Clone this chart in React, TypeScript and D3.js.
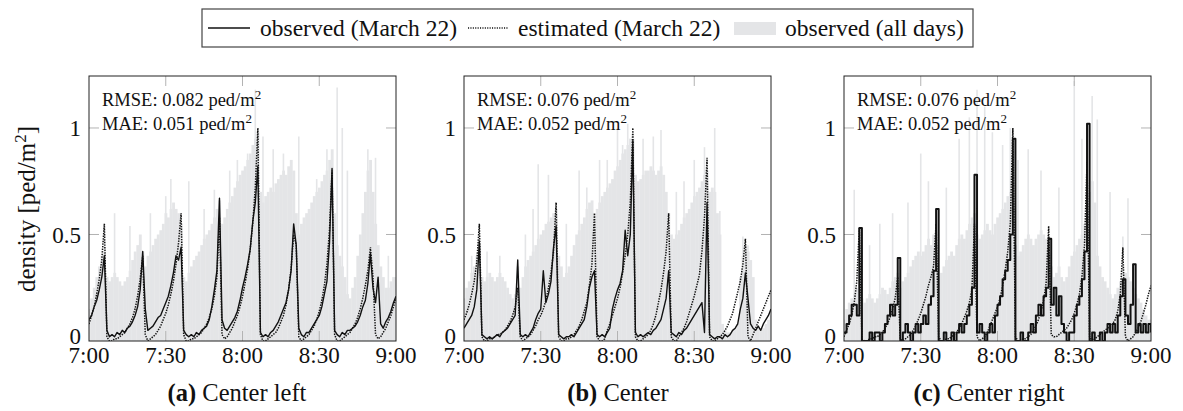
import React from "react";
import * as d3 from "d3";

// ---------- data (minutes after 7:00, one value per minute) ----------
const minutes = d3.range(0, 121);
const xTickValues = [0, 30, 60, 90, 120];
const xTickLabels = ["7:00", "7:30", "8:00", "8:30", "9:00"];
const yTickValues = [0, 0.5, 1];
const yTickLabels = ["0", "0.5", "1"];
const panelTags = ["(a)", "(b)", "(c)"];
const panelNames = ["Center left", "Center", "Center right"];
const rmseValues = ["0.082", "0.076", "0.076"];
const maeValues = ["0.051", "0.052", "0.052"];

const obsA = [0.10,0.12,0.16,0.19,0.24,0.30,0.40,0.05,0.02,0.03,
 0.02,0.04,0.03,0.05,0.04,0.06,0.07,0.09,0.12,0.16,
 0.24,0.42,0.15,0.05,0.06,0.07,0.09,0.11,0.12,0.15,
 0.18,0.21,0.26,0.32,0.40,0.38,0.44,0.05,0.03,0.02,
 0.03,0.02,0.04,0.03,0.05,0.06,0.07,0.10,0.16,0.24,
 0.33,0.67,0.10,0.06,0.05,0.07,0.09,0.11,0.14,0.19,
 0.25,0.30,0.36,0.43,0.56,0.65,0.82,0.04,0.02,0.03,
 0.02,0.04,0.05,0.07,0.09,0.12,0.15,0.18,0.24,0.33,
 0.55,0.45,0.06,0.03,0.02,0.04,0.04,0.06,0.08,0.10,
 0.12,0.16,0.22,0.28,0.46,0.81,0.05,0.03,0.02,0.04,
 0.03,0.05,0.05,0.06,0.07,0.09,0.12,0.16,0.19,0.27,
 0.41,0.25,0.18,0.30,0.08,0.06,0.09,0.11,0.14,0.18,
 0.21];
const estA = [0.08,0.12,0.16,0.22,0.29,0.38,0.55,0.02,0.00,0.00,
 0.01,0.01,0.02,0.03,0.04,0.06,0.08,0.11,0.15,0.21,
 0.29,0.40,0.03,0.00,0.01,0.02,0.03,0.05,0.07,0.10,
 0.13,0.17,0.22,0.28,0.36,0.46,0.60,0.03,0.00,0.00,
 0.01,0.01,0.02,0.03,0.04,0.06,0.08,0.11,0.15,0.21,
 0.30,0.58,0.03,0.01,0.02,0.04,0.06,0.09,0.12,0.16,
 0.21,0.27,0.34,0.43,0.55,0.72,1.00,0.03,0.00,0.00,
 0.01,0.02,0.03,0.04,0.06,0.09,0.12,0.17,0.24,0.34,
 0.50,0.45,0.02,0.00,0.01,0.02,0.03,0.05,0.07,0.10,
 0.14,0.19,0.26,0.36,0.52,0.80,0.03,0.00,0.00,0.01,
 0.02,0.03,0.04,0.06,0.08,0.11,0.15,0.20,0.26,0.33,
 0.44,0.30,0.03,0.01,0.02,0.04,0.06,0.09,0.12,0.16,
 0.20];
const allA = [0.15,0.20,0.25,0.30,0.35,0.40,0.42,0.30,0.28,0.30,
 0.32,0.30,0.28,0.26,0.28,0.30,0.33,0.38,0.42,0.45,
 0.50,0.42,0.35,0.40,0.42,0.45,0.48,0.50,0.52,0.55,
 0.60,0.58,0.62,0.65,0.62,0.60,0.55,0.30,0.28,0.32,
 0.35,0.38,0.40,0.42,0.45,0.48,0.50,0.52,0.55,0.58,
 0.62,0.66,0.55,0.58,0.62,0.65,0.68,0.72,0.75,0.78,
 0.80,0.82,0.85,0.88,0.92,0.95,0.98,0.70,0.65,0.68,
 0.70,0.72,0.70,0.74,0.76,0.78,0.80,0.78,0.82,0.85,
 0.80,0.60,0.50,0.55,0.58,0.60,0.62,0.65,0.68,0.70,
 0.72,0.75,0.78,0.80,0.85,0.90,0.60,0.45,0.40,0.35,
 0.30,0.22,0.20,0.25,0.30,0.40,0.50,0.60,0.70,0.80,
 0.85,0.70,0.55,0.45,0.35,0.30,0.25,0.25,0.28,0.30,
 0.30];
const spikesA = [[6,0.55],[10,0.60],[16,0.54],[24,0.60],[30,0.68],[32,0.76],[39,0.75],[45,0.62],[49,0.71],[55,0.80],[58,0.85],[62,0.88],[65,1.18],[68,0.96],[72,0.90],[76,0.88],[82,0.96],[89,0.76],[93,0.90],[97,1.19],[99,1.0],[101,0.80],[109,0.90],[112,0.86],[117,0.40]];

const obsB = [0.06,0.08,0.10,0.12,0.16,0.24,0.47,0.03,0.02,0.01,
 0.02,0.01,0.02,0.03,0.02,0.04,0.05,0.06,0.08,0.10,
 0.12,0.38,0.03,0.02,0.03,0.02,0.04,0.06,0.10,0.13,
 0.15,0.33,0.18,0.22,0.28,0.44,0.54,0.03,0.02,0.01,
 0.02,0.02,0.03,0.02,0.04,0.06,0.08,0.10,0.16,0.25,
 0.30,0.33,0.03,0.02,0.03,0.02,0.04,0.06,0.15,0.20,
 0.24,0.27,0.33,0.52,0.40,0.50,0.94,0.04,0.02,0.03,
 0.02,0.03,0.04,0.03,0.05,0.06,0.08,0.10,0.15,0.20,
 0.33,0.04,0.03,0.02,0.04,0.03,0.05,0.06,0.08,0.10,
 0.12,0.14,0.16,0.18,0.04,0.65,0.03,0.02,0.01,0.02,
 0.02,0.01,0.03,0.02,0.03,0.05,0.06,0.08,0.15,0.20,
 0.32,0.20,0.08,0.06,0.05,0.07,0.05,0.08,0.10,0.12,
 0.15];
const estB = [0.10,0.13,0.17,0.22,0.28,0.37,0.55,0.02,0.00,0.00,
 0.01,0.01,0.02,0.03,0.03,0.04,0.05,0.07,0.09,0.12,
 0.16,0.25,0.02,0.00,0.01,0.02,0.03,0.05,0.07,0.10,
 0.12,0.15,0.19,0.25,0.32,0.42,0.65,0.02,0.00,0.00,
 0.01,0.01,0.02,0.03,0.05,0.07,0.10,0.14,0.18,0.26,
 0.36,0.60,0.02,0.00,0.00,0.01,0.05,0.08,0.12,0.16,
 0.20,0.25,0.32,0.40,0.50,0.65,1.00,0.02,0.00,0.00,
 0.01,0.02,0.03,0.05,0.08,0.12,0.18,0.24,0.32,0.42,
 0.60,0.02,0.00,0.00,0.02,0.04,0.06,0.09,0.13,0.17,
 0.21,0.26,0.31,0.42,0.58,0.86,0.02,0.00,0.00,0.01,
 0.02,0.03,0.05,0.07,0.10,0.13,0.18,0.23,0.28,0.36,
 0.48,0.02,0.00,0.03,0.06,0.09,0.12,0.15,0.18,0.21,
 0.24];
const allB = [0.20,0.25,0.28,0.32,0.35,0.40,0.45,0.30,0.28,0.30,
 0.32,0.30,0.28,0.30,0.32,0.30,0.28,0.25,0.22,0.20,
 0.22,0.35,0.25,0.30,0.35,0.38,0.40,0.42,0.45,0.48,
 0.50,0.52,0.55,0.56,0.58,0.60,0.62,0.40,0.35,0.30,
 0.32,0.35,0.40,0.45,0.50,0.52,0.55,0.58,0.62,0.65,
 0.66,0.60,0.62,0.65,0.68,0.70,0.72,0.74,0.76,0.80,
 0.82,0.85,0.88,0.90,0.92,0.95,0.95,0.78,0.75,0.76,
 0.78,0.80,0.80,0.82,0.80,0.78,0.80,0.82,0.78,0.70,
 0.60,0.50,0.48,0.50,0.52,0.55,0.58,0.60,0.62,0.65,
 0.68,0.70,0.72,0.75,0.78,0.80,0.70,0.72,0.70,0.60,
 0.50,0.08,0.05,0.04,0.04,0.05,0.06,0.08,0.30,0.40,
 0.45,0.42,0.38,0.30,0.10,0.06,0.05,0.06,0.08,0.10,
 0.12];
const spikesB = [[3,0.40],[9,0.42],[14,0.40],[24,0.50],[27,0.62],[29,0.83],[33,0.78],[40,0.55],[45,0.80],[48,0.72],[53,0.85],[56,0.85],[60,1.00],[62,0.92],[64,1.02],[70,0.95],[74,0.96],[77,0.99],[83,0.70],[86,0.75],[90,0.85],[94,0.91],[98,1.00],[100,0.61],[109,0.49],[111,0.45]];

const obsC = [0.04,0.08,0.12,0.17,0.17,0.12,0.53,0.00,0.00,0.00,
 0.04,0.00,0.04,0.04,0.00,0.04,0.08,0.12,0.17,0.12,
 0.17,0.39,0.00,0.04,0.08,0.04,0.00,0.04,0.08,0.04,
 0.08,0.12,0.08,0.17,0.21,0.33,0.62,0.00,0.00,0.04,
 0.00,0.00,0.04,0.00,0.04,0.08,0.04,0.08,0.12,0.17,
 0.25,0.78,0.04,0.08,0.04,0.00,0.04,0.08,0.04,0.12,
 0.17,0.21,0.29,0.33,0.38,0.50,0.95,0.00,0.00,0.04,
 0.00,0.00,0.04,0.08,0.04,0.12,0.17,0.12,0.21,0.25,
 0.48,0.17,0.25,0.12,0.21,0.08,0.04,0.00,0.04,0.04,
 0.12,0.17,0.21,0.29,0.42,1.02,0.00,0.04,0.00,0.00,
 0.04,0.00,0.04,0.08,0.04,0.08,0.04,0.12,0.21,0.29,
 0.12,0.08,0.17,0.36,0.04,0.08,0.04,0.08,0.04,0.08,
 0.04];
const estC = [0.02,0.05,0.08,0.12,0.18,0.28,0.53,0.01,0.00,0.00,
 0.01,0.01,0.02,0.02,0.03,0.04,0.06,0.08,0.11,0.15,
 0.20,0.30,0.01,0.00,0.01,0.02,0.03,0.05,0.07,0.10,
 0.13,0.17,0.21,0.26,0.30,0.35,0.55,0.02,0.00,0.00,
 0.01,0.01,0.02,0.03,0.04,0.06,0.08,0.11,0.14,0.18,
 0.24,0.55,0.02,0.00,0.01,0.02,0.04,0.07,0.10,0.13,
 0.16,0.20,0.26,0.33,0.42,0.55,1.00,0.02,0.00,0.00,
 0.01,0.01,0.02,0.03,0.05,0.07,0.10,0.14,0.19,0.27,
 0.54,0.03,0.02,0.02,0.03,0.04,0.05,0.06,0.08,0.10,
 0.13,0.17,0.22,0.30,0.45,0.84,0.02,0.00,0.01,0.02,
 0.03,0.04,0.05,0.06,0.07,0.08,0.10,0.14,0.22,0.44,
 0.02,0.00,0.01,0.02,0.04,0.06,0.09,0.13,0.17,0.22,
 0.26];
const allC = [0.10,0.15,0.18,0.20,0.22,0.25,0.35,0.20,0.18,0.20,
 0.22,0.20,0.18,0.20,0.22,0.25,0.24,0.22,0.25,0.28,
 0.30,0.32,0.25,0.28,0.30,0.32,0.35,0.38,0.40,0.42,
 0.40,0.42,0.45,0.48,0.45,0.50,0.45,0.30,0.32,0.35,
 0.38,0.40,0.42,0.40,0.45,0.48,0.50,0.48,0.52,0.55,
 0.58,0.60,0.50,0.48,0.50,0.52,0.55,0.52,0.50,0.55,
 0.58,0.60,0.62,0.65,0.68,0.70,0.65,0.45,0.40,0.42,
 0.45,0.48,0.50,0.48,0.45,0.48,0.50,0.52,0.50,0.48,
 0.45,0.35,0.30,0.32,0.35,0.30,0.28,0.30,0.35,0.40,
 0.42,0.45,0.48,0.50,0.55,0.60,0.70,0.75,0.65,0.40,
 0.35,0.30,0.28,0.25,0.22,0.20,0.22,0.25,0.28,0.30,
 0.32,0.30,0.28,0.25,0.22,0.20,0.18,0.15,0.12,0.10,
 0.10];
const spikesC = [[4,0.71],[10,0.45],[14,0.55],[19,0.60],[25,0.65],[30,0.88],[33,0.75],[40,0.72],[45,0.95],[49,1.05],[52,1.18],[55,1.10],[58,0.98],[62,0.92],[65,1.00],[68,0.85],[72,0.90],[77,0.80],[84,0.72],[90,1.22],[93,0.95],[97,1.15],[99,1.04],[104,0.70],[109,0.49],[111,0.67]];

const observedSeries = [obsA, obsB, obsC];
const estimatedSeries = [estA, estB, estC];
const allDaysSeries = [allA, allB, allC];
const spikeSeries = [spikesA, spikesB, spikesC];

// ---------- layout / style ----------
const W = 1183;
const H = 411;
const FONT = "'Liberation Serif', 'Times New Roman', serif";
const GREY = "#e4e5e7";
const panelLefts = [89, 464, 844];
const panelWidth = 307;
const plotTop = 76;
const plotBottom = 341;
const yMax = 1.244;
const titleCenters = [237, 618, 989];

function Panel({ idx }: { idx: number }) {
  const left = panelLefts[idx];
  const x = d3.scaleLinear().domain([0, 120]).range([left, left + panelWidth]);
  const y = d3.scaleLinear().domain([0, yMax]).range([plotBottom, plotTop]);
  const obs = observedSeries[idx];
  const est = estimatedSeries[idx];
  const all = allDaysSeries[idx];
  const spikes = spikeSeries[idx];
  const obsLine = d3
    .line<number>()
    .x((_, i) => x(minutes[i]))
    .y((d) => y(d))
    .curve(idx === 2 ? d3.curveStepAfter : d3.curveLinear);
  const estLine = d3
    .line<number>()
    .x((_, i) => x(minutes[i]))
    .y((d) => y(d));
  const bw = x(1) - x(0);
  const clipId = `clip${idx}`;
  const tickLen = 10;
  return (
    <g>
      <defs>
        <clipPath id={clipId}>
          <rect x={left} y={plotTop} width={panelWidth} height={plotBottom - plotTop} />
        </clipPath>
      </defs>
      <g clipPath={`url(#${clipId})`}>
        {all.map((v, i) => (
          <rect
            key={"b" + i}
            x={x(minutes[i]) - bw / 2}
            width={bw + 0.3}
            y={y(v)}
            height={y(0) - y(v)}
            fill={GREY}
          />
        ))}
        {spikes.map(([t, v], i) => (
          <line key={"s" + i} x1={x(t)} x2={x(t)} y1={y(0)} y2={y(v)} stroke={GREY} strokeWidth={1.6} />
        ))}
        {xTickValues.slice(1, -1).map((t) => (
          <g key={"xt" + t}>
            <line x1={x(t)} x2={x(t)} y1={plotTop} y2={plotTop + tickLen} stroke="#b3b3b3" strokeWidth={1} />
            <line x1={x(t)} x2={x(t)} y1={plotBottom} y2={plotBottom - tickLen} stroke="#b3b3b3" strokeWidth={1} />
          </g>
        ))}
        {yTickValues.slice(1).map((t) => (
          <g key={"yt" + t}>
            <line x1={left} x2={left + tickLen} y1={y(t)} y2={y(t)} stroke="#b3b3b3" strokeWidth={1} />
            <line x1={left + panelWidth} x2={left + panelWidth - tickLen} y1={y(t)} y2={y(t)} stroke="#b3b3b3" strokeWidth={1} />
          </g>
        ))}
        <path d={estLine(est) || ""} fill="none" stroke="#111" strokeWidth={1.5} strokeDasharray="1.4 1.2" />
        <path d={obsLine(obs) || ""} fill="none" stroke="#111" strokeWidth={idx === 2 ? 2.0 : 1.4} strokeLinejoin="round" />
      </g>
      <rect x={left} y={plotTop} width={panelWidth} height={plotBottom - plotTop} fill="none" stroke="#222" strokeWidth={1} />
      <text x={left + 13} y={106} fontFamily={FONT} fontSize={18.5} fill="#111">
        RMSE: {rmseValues[idx]} ped/m<tspan dy={-7} fontSize={13}>2</tspan>
      </text>
      <text x={left + 13} y={130} fontFamily={FONT} fontSize={18.5} fill="#111">
        MAE: {maeValues[idx]} ped/m<tspan dy={-7} fontSize={13}>2</tspan>
      </text>
      {yTickValues.map((t, i) => (
        <text
          key={"yl" + t}
          x={left - 8}
          y={y(t) - (t === 0 ? 5 : 0)}
          dy="0.35em"
          textAnchor="end"
          fontFamily={FONT}
          fontSize={23}
          fill="#111"
        >
          {yTickLabels[i]}
        </text>
      ))}
      {xTickValues.map((t, i) => (
        <text key={"xl" + t} x={x(t)} y={363} textAnchor="middle" fontFamily={FONT} fontSize={23} fill="#111">
          {xTickLabels[i]}
        </text>
      ))}
      <text x={titleCenters[idx]} y={401} textAnchor="middle" fontFamily={FONT} fontSize={24.5} fill="#111">
        <tspan fontWeight="bold">{panelTags[idx]}</tspan> {panelNames[idx]}
      </text>
    </g>
  );
}

function Legend() {
  return (
    <g fontFamily={FONT} fontSize={23.5} fill="#111">
      <rect x={202} y={9} width={771} height={38} fill="#fff" stroke="#444" strokeWidth={1.2} />
      <line x1={208} x2={250} y1={28} y2={28} stroke="#111" strokeWidth={1.3} />
      <text x={260} y={36}>observed (March 22)</text>
      <line x1={468} x2={508} y1={28} y2={28} stroke="#111" strokeWidth={1.3} strokeDasharray="1.1 1.3" />
      <text x={518} y={36}>estimated (March 22)</text>
      <rect x={734} y={22} width={42} height={13} fill={GREY} />
      <text x={785} y={36}>observed (all days)</text>
    </g>
  );
}

export default function App() {
  return (
    <svg
      width={W}
      height={H}
      viewBox={`0 0 ${W} ${H}`}
      style={{ position: "absolute", left: 0, top: 0, background: "#fff" }}
    >
      <rect x={0} y={0} width={W} height={H} fill="#fff" />
      <Legend />
      {[0, 1, 2].map((i) => (
        <Panel key={i} idx={i} />
      ))}
      <text
        transform="translate(35,209) rotate(-90)"
        textAnchor="middle"
        fontFamily={FONT}
        fontSize={25}
        fill="#111"
      >
        density [ped/m<tspan dy={-9} fontSize={17}>2</tspan>
        <tspan dy={9}>]</tspan>
      </text>
    </svg>
  );
}
